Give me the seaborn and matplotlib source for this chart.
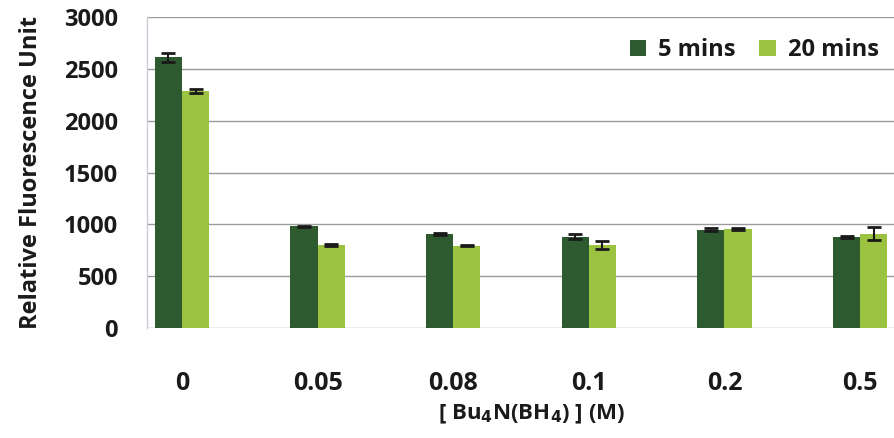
import matplotlib
matplotlib.use("Agg")
import matplotlib.pyplot as plt
import seaborn as sns
import pandas as pd
import numpy as np

# Borohydride concentration (M) and fluorescence readings
concentrations = ["0", "0.05", "0.08", "0.1", "0.2", "0.5"]
series_names = ["5 mins", "20 mins"]
values_5min = [2610, 980, 905, 880, 950, 880]
values_20min = [2290, 800, 795, 800, 955, 910]
err_5min = [40, 8, 8, 25, 15, 10]
err_20min = [20, 8, 8, 35, 10, 60]
y_ticks = [0, 500, 1000, 1500, 2000, 2500, 3000]

colors = ["#2e5a30", "#9bc240"]
text_color = "#1a1a1a"

df = pd.DataFrame({
    "conc": concentrations * 2,
    "time": [series_names[0]] * len(concentrations) + [series_names[1]] * len(concentrations),
    "rfu": values_5min + values_20min,
    "err": err_5min + err_20min,
})

sns.set_theme(style="white")
plt.rcParams["font.family"] = ["Open Sans", "DejaVu Sans"]
plt.rcParams["font.weight"] = "bold"

fig = plt.figure(figsize=(8.94, 4.38), dpi=100)
ax = fig.add_axes([147 / 894, 1 - 328 / 438, 1 - 147 / 894, 311 / 438])

sns.barplot(data=df, x="conc", y="rfu", hue="time", order=concentrations,
            hue_order=series_names, palette=colors, width=0.4, gap=0,
            errorbar=None, saturation=1, linewidth=0, ax=ax)

# error bars at each bar centre
for i, name in enumerate(series_names):
    sub = df[df["time"] == name].set_index("conc").loc[concentrations]
    xs = np.arange(len(concentrations)) + (-0.1 if i == 0 else 0.1)
    ax.errorbar(xs, sub["rfu"], yerr=sub["err"], fmt="none", ecolor=text_color,
                elinewidth=1.5, capsize=5, capthick=2, zorder=5)

ax.set_xlim(-0.258, 5.25)
ax.set_ylim(0, 3000)
ax.set_yticks(y_ticks)
ax.set_yticklabels([str(v) for v in y_ticks], fontsize=17, fontweight="bold", color=text_color)
ax.set_xticks(range(len(concentrations)))
ax.set_xticklabels(concentrations, fontsize=18, fontweight="bold", color=text_color)
ax.tick_params(axis="x", length=0, pad=31)
ax.tick_params(axis="y", length=0, pad=21)

ax.yaxis.grid(True, color="#9a9a9a", linewidth=1.0)
ax.set_axisbelow(True)
for side in ["top", "right", "bottom"]:
    ax.spines[side].set_visible(False)
ax.spines["left"].set_color("#c8ccd4")
ax.spines["left"].set_linewidth(1.0)

ax.set_ylabel("Relative Fluorescence Unit", fontsize=17, fontweight="bold",
              color=text_color, labelpad=15)
ax.set_xlabel(r"[ Bu$_\mathbf{4}$N(BH$_\mathbf{4}$) ] (M)", fontsize=16,
              fontweight="bold", color=text_color, labelpad=8)
ax.xaxis.set_label_coords(0.515, -0.24)

leg = ax.legend(loc="upper right", bbox_to_anchor=(1.008, 1.0), frameon=False,
                ncol=2, fontsize=17, handlelength=0.7, handleheight=0.7,
                handletextpad=0.5, columnspacing=1.0)
for t in leg.get_texts():
    t.set_fontweight("bold")
    t.set_color(text_color)

fig.savefig("out.png", dpi=100)
